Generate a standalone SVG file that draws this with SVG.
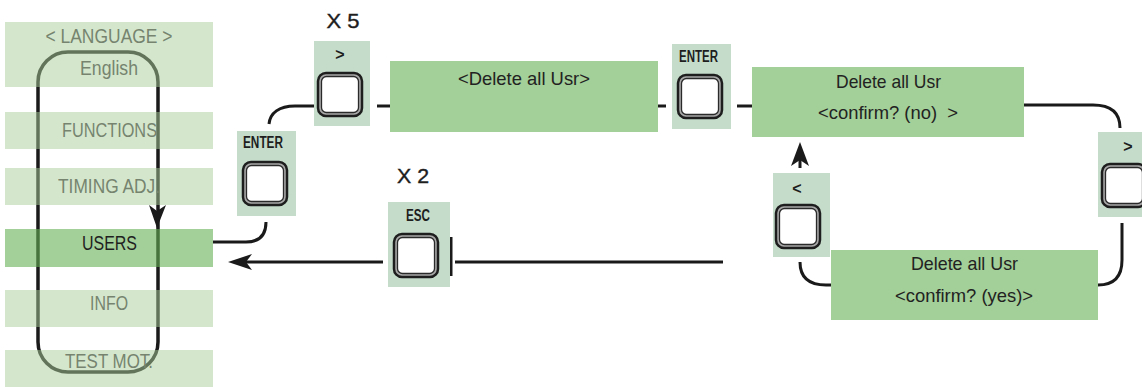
<svg xmlns="http://www.w3.org/2000/svg" width="1142" height="387" viewBox="0 0 1142 387">
<defs>
<style>
.menu{fill:rgb(169,207,155);fill-opacity:0.5}
.menusel{fill:rgb(101,175,83);fill-opacity:0.6}
.mtxt{font-family:"Liberation Sans",Arial,sans-serif;font-size:20.5px;fill:#76846f;text-anchor:middle}
.mtxtsel{font-family:"Liberation Sans",Arial,sans-serif;font-size:20.5px;fill:#1f1f1f;text-anchor:middle}
.panel{fill:#c5dccb}
.box{fill:#a3cf98}
.btxt{font-family:"Liberation Sans",Arial,sans-serif;font-size:18.5px;fill:#222;text-anchor:middle}
.klbl{font-family:"Liberation Sans",Arial,sans-serif;font-size:16px;font-weight:bold;fill:#1e1e1e;text-anchor:middle}
.cnt{font-family:"Liberation Sans",Arial,sans-serif;font-size:21px;fill:#1e1e1e;stroke:#1e1e1e;stroke-width:0.4;text-anchor:middle}
.ln{fill:none;stroke:#1a1a1a;stroke-width:3}
.ah{fill:#1a1a1a}
</style>
<g id="btn">
<rect x="0" y="0" width="44" height="43" rx="8" fill="#a8a8a8" stroke="#1e1e1e" stroke-width="2.5"/>
<rect x="3.5" y="3.5" width="37" height="36" rx="5" fill="#ffffff" stroke="#2a2a2a" stroke-width="1.3"/>
</g>
</defs>

<g id="menu-loop">
<rect x="38" y="52" width="120" height="320" rx="30" fill="none" stroke="#1a1a1a" stroke-width="3.5"/>
</g>

<g id="menu-language"><rect class="menu" x="5" y="22" width="208" height="65"/>
<text class="mtxt" x="109" y="43" textLength="127" lengthAdjust="spacingAndGlyphs">&lt; LANGUAGE &gt;</text>
<text class="mtxt" x="109" y="75" textLength="58" lengthAdjust="spacingAndGlyphs">English</text></g>
<g id="menu-functions"><rect class="menu" x="5" y="112" width="208" height="37"/>
<text class="mtxt" x="109.5" y="137" textLength="95" lengthAdjust="spacingAndGlyphs">FUNCTIONS</text></g>
<g id="menu-timing"><rect class="menu" x="5" y="168" width="208" height="37"/>
<text class="mtxt" x="109" y="193" textLength="102" lengthAdjust="spacingAndGlyphs">TIMING ADJ.</text></g>
<g id="menu-users"><rect class="menusel" x="5" y="229" width="208" height="38"/>
<text class="mtxtsel" x="109.5" y="250" textLength="55" lengthAdjust="spacingAndGlyphs">USERS</text></g>
<g id="menu-info"><rect class="menu" x="5" y="290" width="208" height="37"/>
<text class="mtxt" x="109" y="310" textLength="38" lengthAdjust="spacingAndGlyphs">INFO</text></g>
<g id="menu-testmot"><rect class="menu" x="5" y="350" width="208" height="37"/>
<text class="mtxt" x="109" y="368" textLength="88" lengthAdjust="spacingAndGlyphs">TEST MOT.</text></g>
<path class="ah" d="M157,228 L149,205 L157,211 L166,205 Z"/>

<g id="connectors">
<path class="ln" d="M269,124 C270,113 279,106 295,106 L314,106"/>
<path class="ln" d="M377,106 L390,106"/>
<path class="ln" d="M658,106 L666,106"/>
<path class="ln" d="M737,106 L752,106"/>
<path class="ln" d="M1024,105 L1093,105 Q1120,105 1120,128"/>
<path class="ln" d="M1122,223 L1122,260 Q1122,285 1098,285"/>
<path class="ln" d="M831,285 L826,285 Q800,285 800,262"/>
<path class="ln" d="M800,158 L800,168"/>
<path class="ah" d="M800,142 L809,166 L800,160 L791,166 Z"/>
<path class="ln" d="M266,222 Q266,242 246,242 L213,242"/>
<path class="ln" d="M723,262 L455,262"/>
<path class="ln" d="M451,237 L451,276"/>
<path class="ln" d="M383,262 L244,262"/>
<path class="ah" d="M228,262 L252,254 L246,262 L252,270 Z"/>
</g>

<g id="count-x5"><text class="cnt" x="343" y="28" textLength="33" lengthAdjust="spacingAndGlyphs">X 5</text></g>
<g id="count-x2"><text class="cnt" x="413" y="183" textLength="32" lengthAdjust="spacingAndGlyphs">X 2</text></g>

<g id="key-right-top"><rect class="panel" x="314" y="41" width="56" height="85"/>
<text class="klbl" x="340" y="60">&gt;</text>
<use href="#btn" x="318" y="73"/></g>

<g id="key-enter-left"><rect class="panel" x="237" y="131" width="59" height="85"/>
<text class="klbl" x="263" y="148" textLength="40" lengthAdjust="spacingAndGlyphs">ENTER</text>
<use href="#btn" x="243" y="162"/></g>

<g id="key-esc"><rect class="panel" x="388" y="202" width="62" height="85"/>
<text class="klbl" x="418" y="221" textLength="24" lengthAdjust="spacingAndGlyphs">ESC</text>
<use href="#btn" x="394" y="234"/></g>

<g id="box-delete"><rect class="box" x="390" y="61" width="268" height="71"/>
<text class="btxt" x="524" y="85" textLength="132" lengthAdjust="spacingAndGlyphs">&lt;Delete all Usr&gt;</text></g>

<g id="key-enter-right"><rect class="panel" x="672" y="44" width="59" height="85"/>
<text class="klbl" x="698.5" y="62" textLength="39" lengthAdjust="spacingAndGlyphs">ENTER</text>
<use href="#btn" x="678" y="75"/></g>

<g id="box-confirm-no"><rect class="box" x="752" y="67" width="272" height="70"/>
<text class="btxt" x="888.5" y="88" textLength="105" lengthAdjust="spacingAndGlyphs">Delete all Usr</text>
<text class="btxt" x="888" y="119" textLength="140" lengthAdjust="spacingAndGlyphs" xml:space="preserve">&lt;confirm? (no)  &gt;</text></g>

<g id="key-right-side"><rect class="panel" x="1098" y="132" width="50" height="85"/>
<text class="klbl" x="1128" y="152">&gt;</text>
<use href="#btn" x="1102" y="164"/></g>

<g id="key-left"><rect class="panel" x="773" y="173" width="57" height="84"/>
<text class="klbl" x="797" y="194">&lt;</text>
<use href="#btn" x="776" y="205"/></g>

<g id="box-confirm-yes"><rect class="box" x="831" y="250" width="267" height="70"/>
<text class="btxt" x="964.5" y="270" textLength="107" lengthAdjust="spacingAndGlyphs">Delete all Usr</text>
<text class="btxt" x="964" y="302" textLength="138" lengthAdjust="spacingAndGlyphs">&lt;confirm? (yes)&gt;</text></g>
</svg>
